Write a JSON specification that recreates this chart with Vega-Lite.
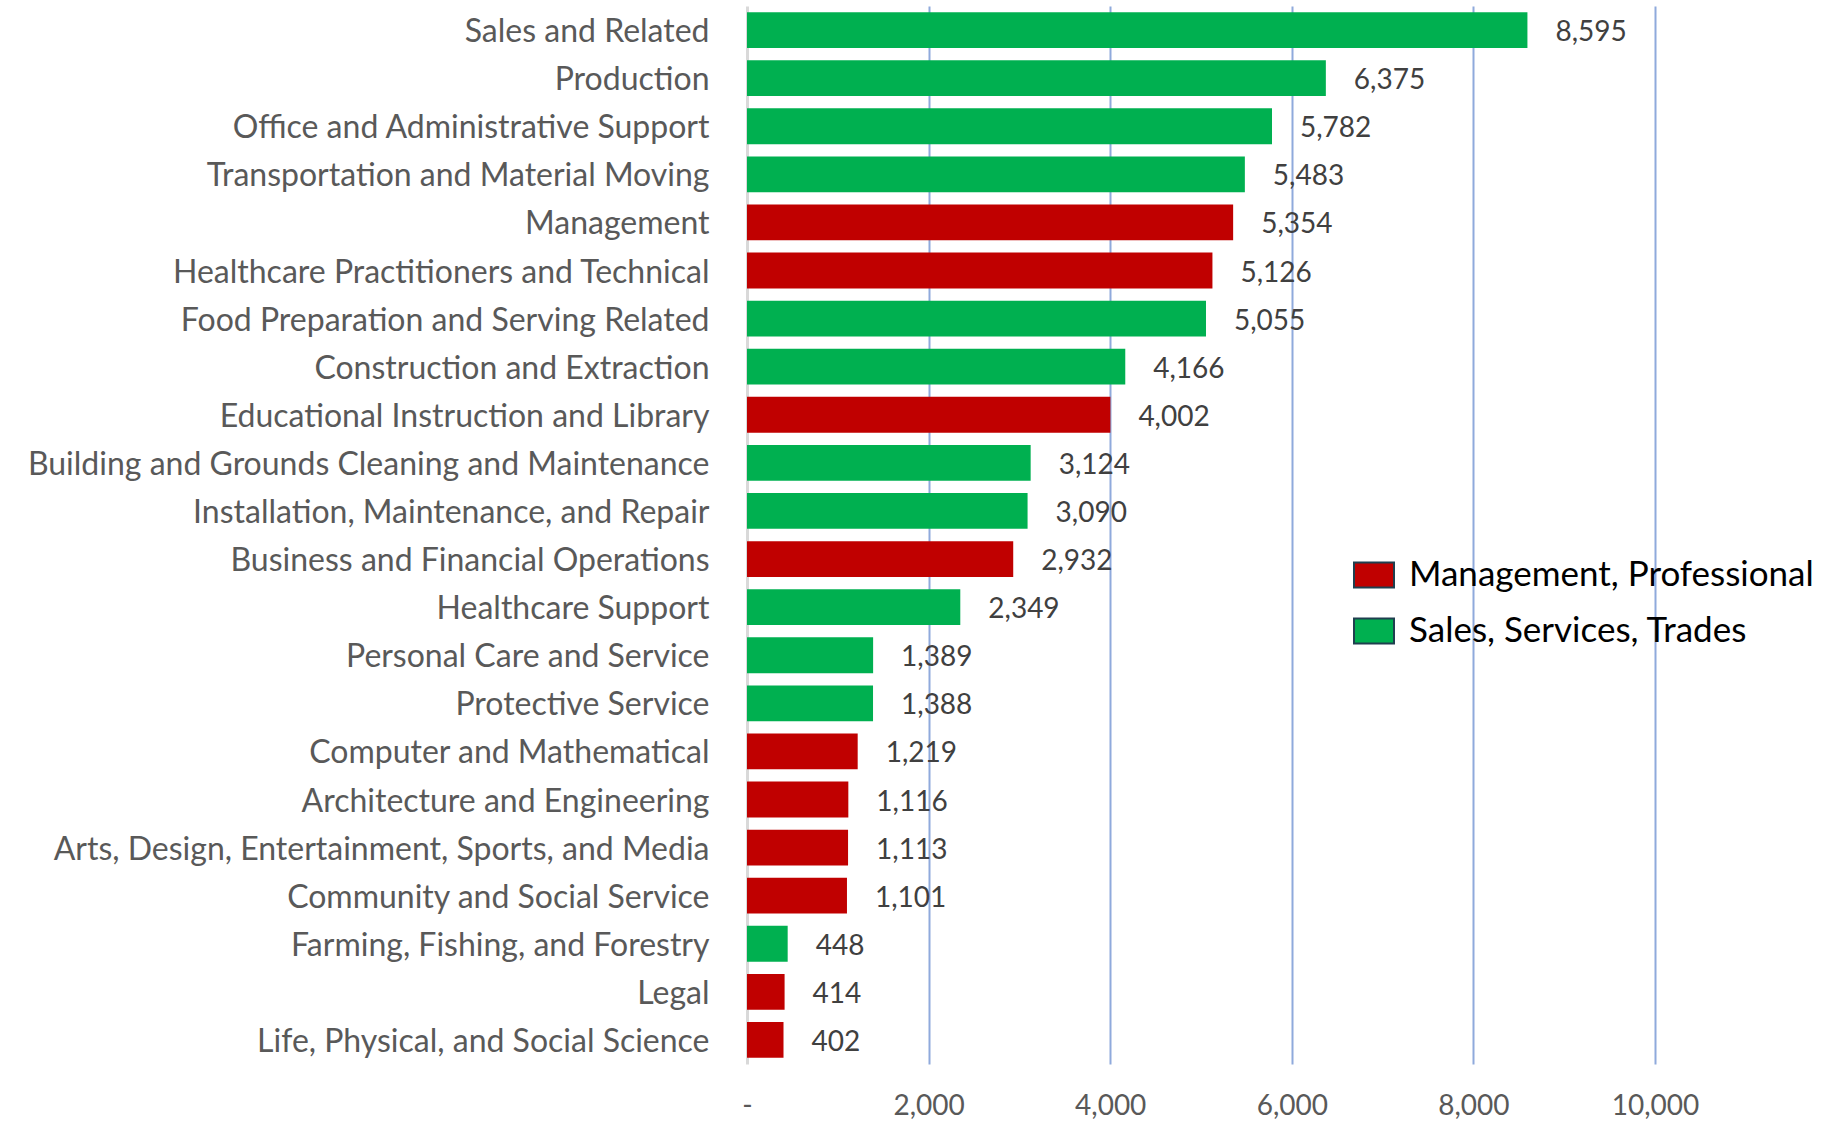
{
  "$schema": "https://vega.github.io/schema/vega-lite/v6.json",
  "width": 908,
  "height": 1058,
  "padding": {"left": 0, "top": 6, "right": 0, "bottom": 0},
  "config": {"view": {"stroke": null}, "font": "Lato"},
  "data": {"values": [
    {"occupation": "Sales and Related", "jobs": 8595, "group": "Sales, Services, Trades"},
    {"occupation": "Production", "jobs": 6375, "group": "Sales, Services, Trades"},
    {"occupation": "Office and Administrative Support", "jobs": 5782, "group": "Sales, Services, Trades"},
    {"occupation": "Transportation and Material Moving", "jobs": 5483, "group": "Sales, Services, Trades"},
    {"occupation": "Management", "jobs": 5354, "group": "Management, Professional"},
    {"occupation": "Healthcare Practitioners and Technical", "jobs": 5126, "group": "Management, Professional"},
    {"occupation": "Food Preparation and Serving Related", "jobs": 5055, "group": "Sales, Services, Trades"},
    {"occupation": "Construction and Extraction", "jobs": 4166, "group": "Sales, Services, Trades"},
    {"occupation": "Educational Instruction and Library", "jobs": 4002, "group": "Management, Professional"},
    {"occupation": "Building and Grounds Cleaning and Maintenance", "jobs": 3124, "group": "Sales, Services, Trades"},
    {"occupation": "Installation, Maintenance, and Repair", "jobs": 3090, "group": "Sales, Services, Trades"},
    {"occupation": "Business and Financial Operations", "jobs": 2932, "group": "Management, Professional"},
    {"occupation": "Healthcare Support", "jobs": 2349, "group": "Sales, Services, Trades"},
    {"occupation": "Personal Care and Service", "jobs": 1389, "group": "Sales, Services, Trades"},
    {"occupation": "Protective Service", "jobs": 1388, "group": "Sales, Services, Trades"},
    {"occupation": "Computer and Mathematical", "jobs": 1219, "group": "Management, Professional"},
    {"occupation": "Architecture and Engineering", "jobs": 1116, "group": "Management, Professional"},
    {"occupation": "Arts, Design, Entertainment, Sports, and Media", "jobs": 1113, "group": "Management, Professional"},
    {"occupation": "Community and Social Service", "jobs": 1101, "group": "Management, Professional"},
    {"occupation": "Farming, Fishing, and Forestry", "jobs": 448, "group": "Sales, Services, Trades"},
    {"occupation": "Legal", "jobs": 414, "group": "Management, Professional"},
    {"occupation": "Life, Physical, and Social Science", "jobs": 402, "group": "Management, Professional"}
  ]},
  "encoding": {
    "y": {
      "field": "occupation", "type": "nominal", "sort": {"field": "jobs", "order": "descending"},
      "scale": {"paddingInner": 0.255, "paddingOuter": 0.1275},
      "axis": {"title": null, "domain": false, "ticks": false, "labelPadding": 38, "labelFontSize": 32, "labelOffset": 2, "labelColor": "#595959", "labelLimit": 800, "minExtent": 747, "maxExtent": 747}
    },
    "x": {
      "field": "jobs", "type": "quantitative",
      "scale": {"domain": [0, 10000], "nice": false},
      "axis": {"title": null, "domain": false, "ticks": false, "values": [0, 2000, 4000, 6000, 8000, 10000],
        "labelExpr": "datum.value == 0 ? '-' : format(datum.value, ',')",
        "labelFlush": false,
        "labelFontSize": 28, "labelColor": "#595959", "labelPadding": 28,
        "gridColor": {"condition": {"test": "datum.value == 0", "value": "#d9d9d9"}, "value": "#8faadc"},
        "gridWidth": {"condition": {"test": "datum.value == 0", "value": 3}, "value": 2}}
    }
  },
  "layer": [
    {
      "mark": {"type": "bar"},
      "encoding": {
        "color": {
          "field": "group", "type": "nominal",
          "scale": {"domain": ["Management, Professional", "Sales, Services, Trades"], "range": ["#c00000", "#00b050"]},
          "legend": {"title": null, "orient": "none", "legendX": 606, "legendY": 548,
            "symbolType": "M-1,-0.62H1V0.62H-1Z", "symbolSize": 1600, "symbolStrokeColor": "#1f3f4f", "symbolStrokeWidth": 2,
            "labelFontSize": 35, "labelColor": "#000000", "labelOffset": 14, "rowPadding": 17, "labelLimit": 600}
        }
      }
    },
    {
      "mark": {"type": "text", "align": "left", "baseline": "middle", "dx": 28, "dy": 3, "fontSize": 28, "color": "#404040"},
      "encoding": {"text": {"field": "jobs", "type": "quantitative", "format": ","}}
    }
  ]
}
